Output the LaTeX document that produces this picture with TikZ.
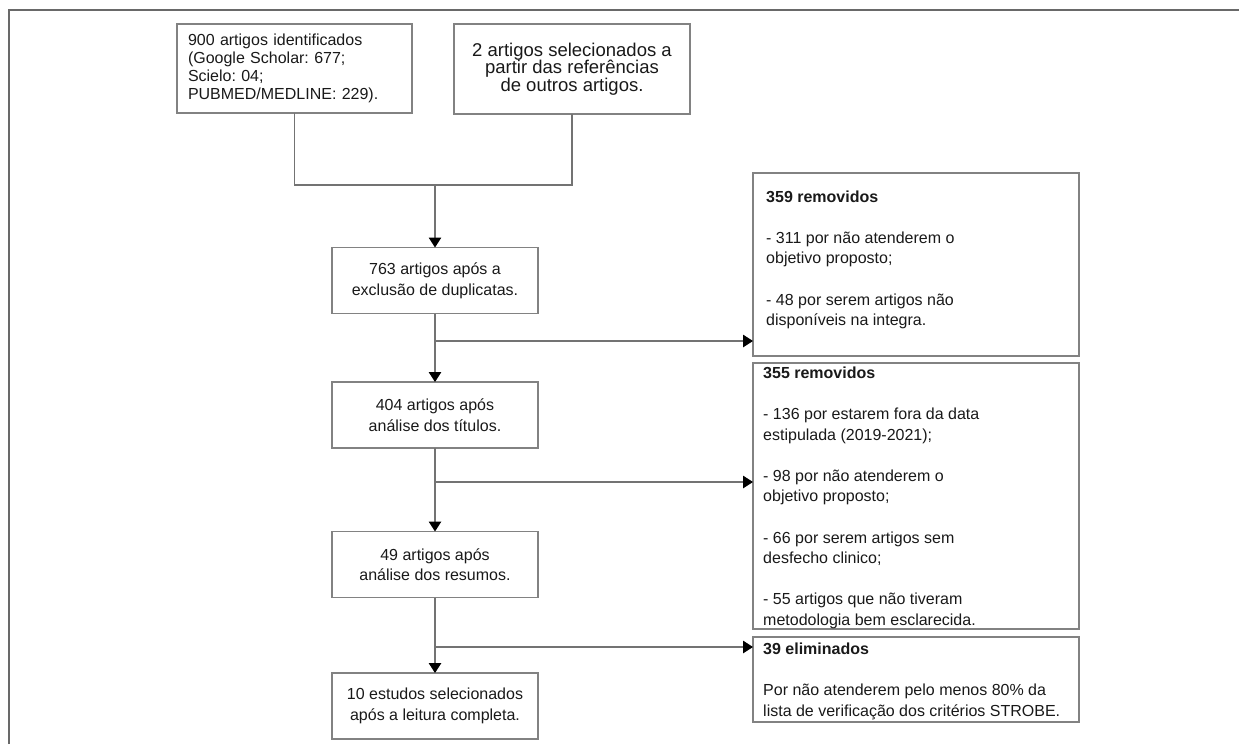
\documentclass[tikz,border=0pt]{standalone}
\usepackage{fontspec}
\setmainfont{Liberation Sans}
\frenchspacing
\usetikzlibrary{arrows.meta,positioning}
\definecolor{FrameGray}{RGB}{105,105,105}
\definecolor{BoxGray}{RGB}{130,130,130}
\definecolor{LineGray}{RGB}{115,115,115}
\definecolor{InkBlack}{RGB}{25,25,25}
\tikzset{
  flowbox/.style={draw=BoxGray,line width=1.4pt,inner sep=0pt,outer sep=0pt,
    minimum width=206pt,minimum height=66pt,align=center,text=InkBlack,
    font=\fontsize{16}{20.6}\selectfont},
  sidebox/.style={draw=BoxGray,line width=1.4pt,inner sep=0pt,outer sep=0pt,minimum width=326pt},
  sidetext/.style={inner sep=0pt,align=left,text=InkBlack,font=\fontsize{16}{20.6}\selectfont},
  link/.style={draw=LineGray,line width=1.2pt},
  arr/.style={link,-{Triangle[length=10pt,width=12.5pt,color=black]}}
}

\begin{document}
\begin{tikzpicture}[x=1pt,y=1pt]
\useasboundingbox (0,0) rectangle (1239,-744);
\draw[FrameGray,line width=1.2pt] (9,-744)--(9,-10)--(1239,-10);
% top sources
\node[flowbox,minimum width=235pt,minimum height=89pt,text width=213pt,inner xsep=11pt,align=left,
  font=\fontsize{16}{17.8}\selectfont] (b900) at (294.5,-68.5)
  {900 artigos identificados\\(Google Scholar: 677;\\Scielo: 04;\\PUBMED/MEDLINE: 229).};
\node[flowbox,minimum width=236pt,minimum height=90pt,font=\fontsize{18.5}{17.5}\selectfont] (b2) at (572,-69)
  {2 artigos selecionados a\\partir das referências\\de outros artigos.};
% main column
\node[flowbox] (b763) at (435,-280.5) {763 artigos após a\\exclusão de duplicatas.};
\node[flowbox] (b404) at (435,-415) {404 artigos após\\análise dos títulos.};
\node[flowbox] (b49) at (435,-564.5) {49 artigos após\\análise dos resumos.};
\node[flowbox] (b10) at (435,-706) {10 estudos selecionados\\após a leitura completa.};
% exclusions
\node[sidebox,minimum height=183pt] (r359) at (916,-264.5) {};
\node[sidebox,minimum height=266pt] (r355) at (916,-496) {};
\node[sidebox,minimum height=85pt] (r39) at (916,-679.5) {};
\node[sidetext,below right=17.4pt and 13pt of r359.north west] (t359)
  {\textbf{359 removidos}\\[20.6pt]- 311 por não atenderem o\\objetivo proposto;\\[20.6pt]- 48 por serem artigos não\\disponíveis na integra.};
\node[sidetext,below right=3.4pt and 10pt of r355.north west] (t355)
  {\textbf{355 removidos}\\[20.6pt]- 136 por estarem fora da data\\estipulada (2019-2021);\\[20.6pt]- 98 por não atenderem o\\objetivo proposto;\\[20.6pt]- 66 por serem artigos sem\\desfecho clinico;\\[20.6pt]- 55 artigos que não tiveram\\metodologia bem esclarecida.};
\node[sidetext,below right=5.4pt and 10pt of r39.north west] (t39)
  {\textbf{39 eliminados}\\[20.6pt]Por não atenderem pelo menos 80\% da\\lista de verificação dos critérios STROBE.};
% connectors
\coordinate (jn) at (435,-185);
\coordinate (j1) at (435,-341);
\coordinate (j2) at (435,-482);
\coordinate (j3) at (435,-647);
\draw[link] (b900.south) |- (jn) -| (b2.south);
\draw[arr] (jn) -- (b763.north);
\draw[arr] (b763.south) -- (b404.north);
\draw[arr] (j1) -- (j1 -| r359.west);
\draw[arr] (b404.south) -- (b49.north);
\draw[arr] (j2) -- (j2 -| r355.west);
\draw[arr] (b49.south) -- (b10.north);
\draw[arr] (j3) -- (j3 -| r39.west);
\end{tikzpicture}
\end{document}
